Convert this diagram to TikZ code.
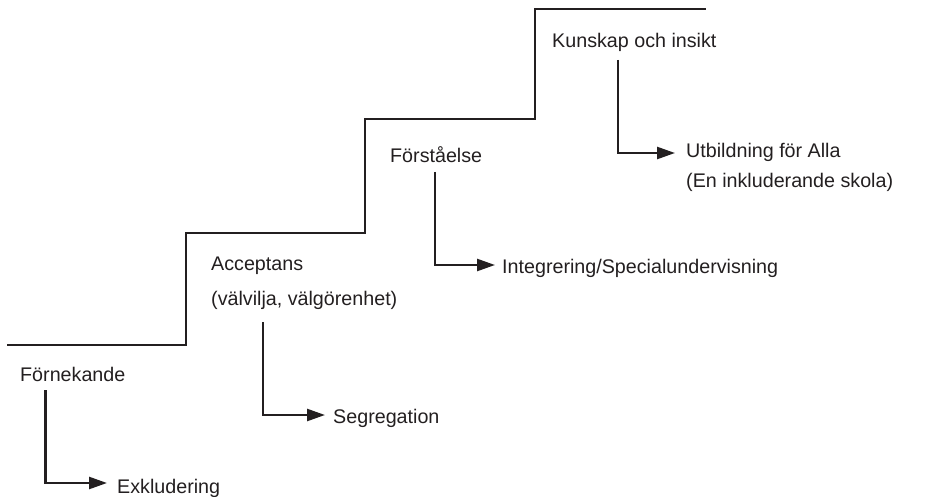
\documentclass[tikz,border=0pt]{standalone}
\usepackage{fontspec}
\setmainfont{Liberation Sans}
\usetikzlibrary{arrows.meta}
\definecolor{ink}{HTML}{231F20}
\begin{document}
\begin{tikzpicture}[x=1pt,y=-1pt,
  lbl/.style={anchor=base west,inner sep=0pt,text=ink,font=\fontsize{19.7}{24}\selectfont},
  stair/.style={draw=ink,line width=2.5pt,line join=miter},
  arr/.style={draw=ink,line width=2.5pt,-{Triangle[length=18pt,width=12pt]}}]
\useasboundingbox (0,0) rectangle (931,497);
% staircase
\draw[stair] (7,345) -- (186,345) -- (186,233) -- (365,233) -- (365,119) -- (535,119) -- (535,9) -- (706,9);
% labels
\node[lbl] (forn) at (20,381) {Förnekande};
\node[lbl] (exkl) at (117,493) {Exkludering};
\node[lbl] (acc) at (211,270) {Acceptans};
\node[lbl] (valv) at (211,305) {(välvilja, välgörenhet)};
\node[lbl] (segr) at (333,423) {Segregation};
\node[lbl] (forst) at (390,163) {Förståelse};
\node[lbl] (integ) at (502,273) {Integrering/Specialundervisning};
\node[lbl] (kuns) at (552,48) {Kunskap och insikt};
\node[lbl] (utb) at (686,158) {Utbildning för Alla};
\node[lbl] (inkl) at (686,188) {(En inkluderande skola)};
% arrow endpoints
\coordinate (a1s) at (45.7,390); \coordinate (a1e) at (107,483);
\coordinate (a2s) at (263,322);  \coordinate (a2e) at (325,415);
\coordinate (a3s) at (435,172);  \coordinate (a3e) at (495,265);
\coordinate (a4s) at (618,60);   \coordinate (a4e) at (675,153);
\draw[arr] (a1s) |- (a1e);
\draw[arr] (a2s) |- (a2e);
\draw[arr] (a3s) |- (a3e);
\draw[arr] (a4s) |- (a4e);
\end{tikzpicture}
\end{document}
